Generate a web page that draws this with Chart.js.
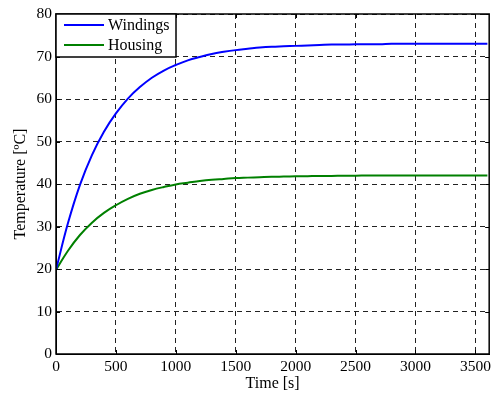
<!DOCTYPE html>
<html>
<head>
<meta charset="utf-8">
<script src="https://cdn.jsdelivr.net/npm/chart.js@4"></script>
<style>
html,body{margin:0;padding:0;background:#fff;}
#wrap{width:495px;height:397px;}
</style>
</head>
<body>
<div id="wrap"><canvas id="c" width="495" height="397"></canvas></div>
<script>
const times = [0,100,200,300,400,500,600,700,800,900,1000,1100,1200,1300,1400,1500,1600,1700,1800,1900,2000,2100,2200,2300,2400,2500,2600,2700,2800,2900,3000,3100,3200,3300,3400,3500,3600];
const windings = [19.8,30.8,39.8,46.8,52.3,56.6,60.1,62.8,65.0,66.7,68.0,69.1,69.9,70.6,71.1,71.5,71.8,72.1,72.3,72.4,72.5,72.6,72.7,72.8,72.8,72.9,72.9,72.9,73,73,73,73,73,73,73,73,73];
const housing = [19.8,24.3,28.0,30.9,33.2,35.0,36.5,37.7,38.6,39.3,39.9,40.3,40.7,41.0,41.2,41.4,41.5,41.6,41.7,41.75,41.8,41.85,41.9,41.9,41.95,41.95,42,42,42,42,42,42,42,42,42,42,42];
const xTicks = [0,500,1000,1500,2000,2500,3000,3500];
const yTicks = [0,10,20,30,40,50,60,70,80];
const seriesNames = ['Windings','Housing'];
const seriesColors = ['#0000ff','#008000'];
const xTitle = 'Time [s]';
const yTitle = 'Temperature [ºC]';

const FONT = '"Liberation Serif","Times New Roman",serif';

const framePlugin = {
  id:'frame',
  afterDraw(chart){
    const {ctx, chartArea:a, scales} = chart;
    ctx.save();
    ctx.strokeStyle='#000'; ctx.lineWidth=1; ctx.setLineDash([]);
    scales.x.ticks.forEach(t=>{
      const px=Math.round(scales.x.getPixelForValue(t.value))+0.5;
      ctx.beginPath(); ctx.moveTo(px,a.bottom); ctx.lineTo(px,a.bottom-4);
      ctx.moveTo(px,a.top); ctx.lineTo(px,a.top+4); ctx.stroke();
    });
    scales.y.ticks.forEach(t=>{
      const py=Math.round(scales.y.getPixelForValue(t.value))+0.5;
      ctx.beginPath(); ctx.moveTo(a.left,py); ctx.lineTo(a.left+4,py);
      ctx.moveTo(a.right,py); ctx.lineTo(a.right-4,py); ctx.stroke();
    });
    ctx.lineWidth=1.5;
    ctx.strokeRect(a.left,a.top,a.right-a.left,a.bottom-a.top);
    const lx=a.left, ly=a.top, lw=120, lh=43;
    ctx.fillStyle='#fff';
    ctx.fillRect(lx,ly,lw,lh);
    ctx.strokeRect(lx,ly,lw,lh);
    ctx.font='16px '+FONT;
    ctx.textBaseline='middle';
    ctx.textAlign='left';
    seriesNames.forEach((n,i)=>{
      const yy=ly+11+i*20;
      ctx.strokeStyle=seriesColors[i]; ctx.lineWidth=2;
      ctx.beginPath(); ctx.moveTo(lx+8,yy); ctx.lineTo(lx+48,yy); ctx.stroke();
      ctx.fillStyle='#000';
      ctx.fillText(n,lx+52,yy+1);
    });
    ctx.restore();
  }
};

new Chart(document.getElementById('c'),{
  type:'line',
  data:{
    datasets:[
      {label:seriesNames[0],data:times.map((t,i)=>({x:t,y:windings[i]})),borderColor:seriesColors[0],borderWidth:2,pointRadius:0,tension:0.4,fill:false},
      {label:seriesNames[1],data:times.map((t,i)=>({x:t,y:housing[i]})),borderColor:seriesColors[1],borderWidth:2,pointRadius:0,tension:0.4,fill:false}
    ]
  },
  options:{
    responsive:false,
    animation:false,
    layout:{padding:{top:14,right:3,left:0,bottom:0}},
    plugins:{legend:{display:false},tooltip:{enabled:false}},
    scales:{
      x:{
        type:'linear',min:0,max:3615,
        afterBuildTicks(s){s.ticks=xTicks.map(v=>({value:v}));},
        ticks:{autoSkip:false,color:'#000',font:{family:FONT,size:15.5},padding:4,maxRotation:0,callback:v=>String(v)},
        grid:{color:'#222',lineWidth:1,drawTicks:false},
        border:{display:true,color:'#000',dash:[5,4]},
        title:{display:true,text:xTitle,color:'#000',font:{family:FONT,size:16},padding:{top:1,bottom:4}},
        afterFit(s){s.height=43;}
      },
      y:{
        type:'linear',min:0,max:80,
        afterBuildTicks(s){s.ticks=yTicks.map(v=>({value:v}));},
        ticks:{autoSkip:false,color:'#000',font:{family:FONT,size:15.5},padding:4,callback:v=>String(v)},
        grid:{color:'#222',lineWidth:1,drawTicks:false},
        border:{display:true,color:'#000',dash:[5,4]},
        title:{display:true,text:yTitle,color:'#000',font:{family:FONT,size:16},padding:{top:11,bottom:2}},
        afterFit(s){s.width=56;}
      }
    }
  },
  plugins:[framePlugin]
});
</script>
</body>
</html>
